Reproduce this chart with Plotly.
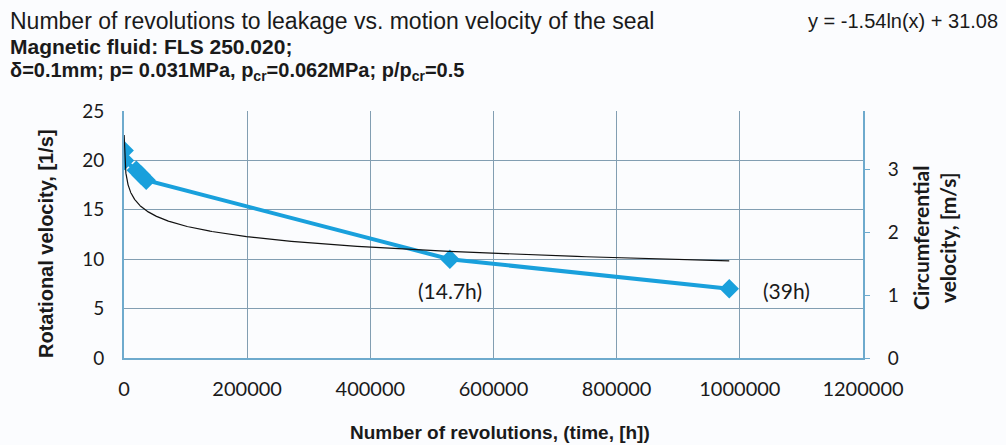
import numpy as np
import plotly.graph_objects as go

# ---- data ----
revolutions = [250, 700, 20000, 28000, 36000, 529200, 982800]
rot_velocity = [21, 20, 19, 18.5, 18, 10, 7]
trend_a = -1.54
trend_b = 31.08
point_labels = ["(14.7h)", "(39h)"]
label_x = [529200, 982800]
x_ticks = [0, 200000, 400000, 600000, 800000, 1000000, 1200000]
y_ticks = [0, 5, 10, 15, 20, 25]
y2_ticks = [0, 1, 2, 3]
diam_factor = 0.05 * np.pi  # m per revolution -> circumferential velocity

trend_x = np.geomspace(min(revolutions), max(revolutions), 400)
trend_y = trend_a * np.log(trend_x) + trend_b

L, R, T, B = 124, 863, 111, 358
W, H = 1006, 445
pw, ph = R - L, B - T

def px(xp):
    return (xp - L) / pw

def py(yp):
    return (B - yp) / ph

grid_c = "rgb(130,158,178)"
axis_c = "rgb(110,170,205)"
blue = "rgb(25,160,220)"
txt = "#1a1a1a"

fig = go.Figure()
fig.add_trace(go.Scatter(x=revolutions, y=rot_velocity, mode="lines+markers",
                         line=dict(color=blue, width=4),
                         marker=dict(symbol="diamond", size=15, color=blue),
                         showlegend=False, hoverinfo="skip"))
fig.add_trace(go.Scatter(x=trend_x, y=trend_y, mode="lines",
                         line=dict(color="#111111", width=1.2),
                         showlegend=False, hoverinfo="skip"))
fig.add_trace(go.Scatter(x=[0], y=[0], yaxis="y2", mode="markers",
                         marker=dict(opacity=0), showlegend=False, hoverinfo="skip"))

fig.update_layout(
    width=W, height=H,
    margin=dict(l=L, r=W - R, t=T, b=H - B, autoexpand=False),
    paper_bgcolor="#fbfcfe", plot_bgcolor="#fbfcfe",
    xaxis=dict(range=[0, 1200000], tickvals=x_ticks, ticktext=[str(v) for v in x_ticks],
               showgrid=True, gridcolor=grid_c, gridwidth=1,
               showline=True, linecolor=axis_c, linewidth=2, mirror=False,
               zeroline=False, ticks="", ticklabelstandoff=12, automargin=False,
               tickfont=dict(family="Lato", size=20, color=txt)),
    yaxis=dict(range=[0, 25], tickvals=y_ticks, showgrid=True, gridcolor=grid_c, gridwidth=1,
               showline=True, linecolor=axis_c, linewidth=2, zeroline=False,
               ticks="", ticklabelstandoff=14, automargin=False,
               tickfont=dict(family="Lato", size=19, color=txt)),
    yaxis2=dict(range=[0, 25 * diam_factor], tickvals=y2_ticks, overlaying="y", side="right",
                showgrid=False, showline=True, linecolor=axis_c, linewidth=2, zeroline=False,
                ticks="outside", ticklen=5, tickcolor=axis_c, ticklabelstandoff=14,
                automargin=False,
                tickfont=dict(family="Lato", size=19, color=txt)),
)

ann = []
ann.append(dict(text="Number of revolutions to leakage vs. motion velocity of the seal",
                x=px(8), y=py(21), xanchor="left", yanchor="middle",
                font=dict(family="Liberation Sans", size=23, color=txt)))
ann.append(dict(text="<b>Magnetic fluid: FLS 250.020;</b>",
                x=px(8), y=py(46), xanchor="left", yanchor="middle",
                font=dict(family="Liberation Sans", size=21, color=txt)))
ann.append(dict(text="<b>δ=0.1mm; p= 0.031MPa, p<sub>cr</sub>=0.062MPa; p/p<sub>cr</sub>=0.5</b>",
                x=px(8), y=py(71), xanchor="left", yanchor="middle",
                font=dict(family="Liberation Sans", size=20, color=txt)))
ann.append(dict(text="y = -1.54ln(x) + 31.08",
                x=px(1000), y=py(21), xanchor="right", yanchor="middle",
                font=dict(family="Liberation Sans", size=20, color=txt)))
ann.append(dict(text="<b>Rotational velocity, [1/s]</b>", textangle=-90,
                x=px(46), y=py(244), xanchor="center", yanchor="middle",
                font=dict(family="Liberation Sans", size=20, color=txt)))
ann.append(dict(text="<b>Circumferential<br>velocity, [m/s]</b>", textangle=-90,
                x=px(934), y=py(238), xanchor="center", yanchor="middle",
                font=dict(family="Lato", size=21, color=txt)))
ann.append(dict(text="<b>Number of revolutions, (time, [h])</b>",
                x=px(500), y=py(432), xanchor="center", yanchor="middle",
                font=dict(family="Liberation Sans", size=19, color=txt)))
fig.update_layout(annotations=[dict(a, xref="paper", yref="paper", showarrow=False) for a in ann])

# point labels, data-anchored in x
fig.add_annotation(text=point_labels[0], x=label_x[0], y=py(290), xref="x", yref="paper",
                   xanchor="center", yanchor="middle", showarrow=False,
                   font=dict(family="Lato", size=21, color=txt))
fig.add_annotation(text=point_labels[1], x=label_x[1], y=py(290), xref="x", yref="paper",
                   xanchor="left", yanchor="middle", showarrow=False, xshift=32,
                   font=dict(family="Lato", size=21, color=txt))

fig.write_html("out.html", config={"displayModeBar": False},
               post_script="document.body.style.margin='0px';")
